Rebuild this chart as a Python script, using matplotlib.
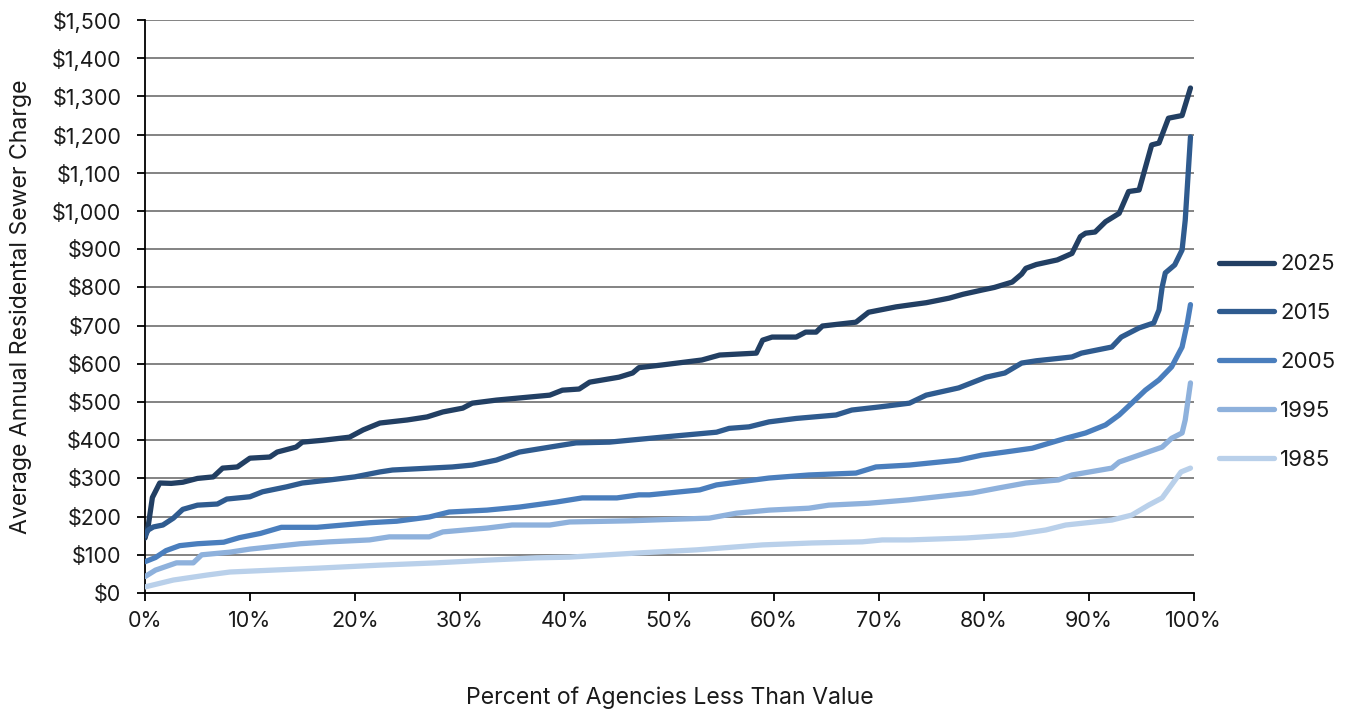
import matplotlib
matplotlib.use("Agg")
import matplotlib.pyplot as plt
from matplotlib.ticker import FuncFormatter, MultipleLocator

plt.rcParams['font.family'] = ['Inter', 'DejaVu Sans']

# ---------------- data ----------------
years = ["2025", "2015", "2005", "1995", "1985"]

x_2025 = [0, 0.3, 0.7, 1.4, 2.5, 3.6, 5, 6.5, 7.4, 8.8, 10, 11.9, 12.6, 14.4, 15, 17, 19.5, 20.8,
          22.4, 25, 26.9, 28.4, 30.3, 31.2, 33.5, 38.6, 39.8, 41.4, 42.4, 45.2, 46.5, 47.1, 49.3,
          53.1, 54.8, 58.3, 58.9, 59.8, 62.1, 63, 64, 64.6, 67.8, 69, 71.6, 72.9, 74.5, 76.7, 78,
          79.8, 81, 82.7, 83.6, 84, 85, 87, 88.4, 89.2, 89.7, 90.6, 91.6, 92.9, 93.8, 94.8, 96.0,
          96.7, 97.6, 98.9, 99.7]
v_2025 = [144, 175, 250, 288, 287, 290, 300, 304, 327, 330, 353, 356, 369, 382, 395, 400, 408, 427,
          445, 453, 461, 474, 484, 497, 505, 518, 531, 534, 552, 565, 576, 590, 597,
          610, 623, 628, 662, 670, 670, 683, 683, 699, 709, 735, 749, 754, 760, 772, 782,
          793, 800, 814, 835, 850, 860, 872, 889, 933, 942, 945, 972, 994, 1051, 1055, 1173,
          1178, 1243, 1250, 1322]

x_2015 = [0, 0.3, 0.8, 1.7, 2.7, 3.6, 5, 6.9, 7.8, 10, 11.2, 13.5, 15, 17.6, 20, 22.4, 23.6, 29.3,
          31.2, 33.5, 35.7, 38.6, 41.1, 44.3, 46.2, 49.3, 54.5, 55.7, 57.6, 59.5, 62.1, 65.9, 67.4,
          70, 72.9, 74.5, 77.6, 80.2, 82, 83.6, 85, 88.4, 89.3, 92.2, 93.1, 94.8, 96.2, 96.7, 97,
          97.3, 98.2, 98.9, 99.2, 99.7]
v_2015 = [150, 165, 173, 178, 196, 219, 230, 233, 246, 252, 265, 278, 288, 296, 304, 317, 322, 330,
          335, 348, 369, 382, 393, 395, 400, 408, 421, 431, 435, 448, 457, 466, 479,
          487, 497, 518, 537, 565, 576, 602, 608, 618, 628, 644, 670, 694, 707, 741, 801,
          838, 859, 898, 976, 1194]

x_2005 = [0, 1, 2, 3.3, 5, 7.5, 9, 11, 13, 16.4, 18.9, 21.4, 24, 27.1, 29, 32.6, 35.7, 39.2, 41.7,
          45, 47.1, 48.1, 52.9, 54.5, 56.7, 59.5, 63.3, 67.8, 69.7, 72.9, 77.6, 79.8, 82, 84.6,
          87.8, 89.7, 91.6, 92.9, 94.1, 95.4, 96.7, 97.9, 98.9, 99.4, 99.7]
v_2005 = [82, 93, 111, 124, 129, 133, 145, 156, 172, 172, 178, 184, 188, 199, 212, 217, 225, 238, 249,
          249, 257, 257, 270, 283, 291, 301, 309, 314, 330, 335, 348, 361, 369, 379,
          405, 419, 440, 466, 497, 531, 558, 592, 644, 707, 755]

x_1995 = [0, 1, 3, 4.6, 5.4, 8.1, 10, 14.8, 17.6, 21.4, 23.3, 27.1, 28.4, 32.6, 35, 38.6, 40.5,
          46.2, 49.3, 53.8, 56.4, 59.5, 63.3, 65.2, 69, 72.9, 78.9, 81.4, 84, 87.1, 88.4, 92.2,
          92.9, 94.8, 97, 97.9, 98.9, 99.2, 99.7]
v_1995 = [43, 60, 79, 79, 100, 107, 115, 129, 134, 139, 147, 147, 160, 170, 178, 178, 186,
          189, 192, 196, 209, 217, 222, 230, 235, 244, 262, 275, 288, 296, 309, 327,
          343, 361, 382, 405, 419, 453, 550]

x_1985 = [0, 2.7, 5.9, 8.1, 12.2, 16.4, 22.4, 27.8, 32.6, 37.3, 40.5, 47.1, 52.6, 58.9, 63.6, 68.4,
          70.3, 72.9, 78.3, 82.7, 85.9, 87.8, 92.2, 94.1, 95.7, 97, 97.9, 98.8, 99.7]
v_1985 = [16, 34, 47, 55, 60, 65, 73, 79, 86, 92, 94, 105, 113, 126, 131, 134,
          139, 139, 144, 152, 165, 178, 191, 204, 230, 249, 283, 317, 327]

series_x = [x_2025, x_2015, x_2005, x_1995, x_1985]
series_v = [v_2025, v_2015, v_2005, v_1995, v_1985]
colors = ["#223f63", "#2f5b8f", "#4a7ebd", "#8eb1dc", "#b9d0ea"]

# ---------------- figure ----------------
fig = plt.figure(figsize=(13.53, 7.15), dpi=100)
ax = fig.add_axes([0.1072, 0.1706, 0.7750, 0.8014])

for xs, vs, c, lab in zip(series_x, series_v, colors, years):
    ax.plot(xs, vs, color=c, lw=3.8, solid_capstyle='round', solid_joinstyle='round',
            label=lab, zorder=3)

ax.set_xlim(0, 100)
ax.set_ylim(0, 1500)
ax.yaxis.set_major_locator(MultipleLocator(100))
ax.xaxis.set_major_locator(MultipleLocator(10))
ax.yaxis.set_major_formatter(FuncFormatter(lambda v, p: "${:,.0f}".format(v)))
ax.xaxis.set_major_formatter(FuncFormatter(lambda v, p: "{:.0f}%".format(v)))

ax.grid(axis='y', color='#7a7a7a', lw=1.3, zorder=1)
ax.set_axisbelow(True)
for s in ['top', 'right']:
    ax.spines[s].set_visible(False)
for s in ['left', 'bottom']:
    ax.spines[s].set_color('black')
    ax.spines[s].set_linewidth(1.3)

ax.tick_params(axis='both', direction='out', length=6, width=1.3, colors='black',
               labelsize=15.5, labelcolor='#1a1a1a')
ax.tick_params(axis='x', pad=7)
ax.tick_params(axis='y', pad=11)

ax.set_ylabel("Average Annual Residental Sewer Charge", fontsize=16.6, color='#1a1a1a')
ax.yaxis.set_label_coords(-0.108, 0.5)
ax.set_xlabel("Percent of Agencies Less Than Value", fontsize=16.6, color='#1a1a1a')
ax.xaxis.set_label_coords(0.5, -0.164)

leg = ax.legend(loc='center left', bbox_to_anchor=(1.005, 0.403), frameon=False,
                fontsize=16, handlelength=2.5, handletextpad=0.25, labelspacing=1.3,
                labelcolor='#1a1a1a')

fig.savefig("out.png", dpi=100)
